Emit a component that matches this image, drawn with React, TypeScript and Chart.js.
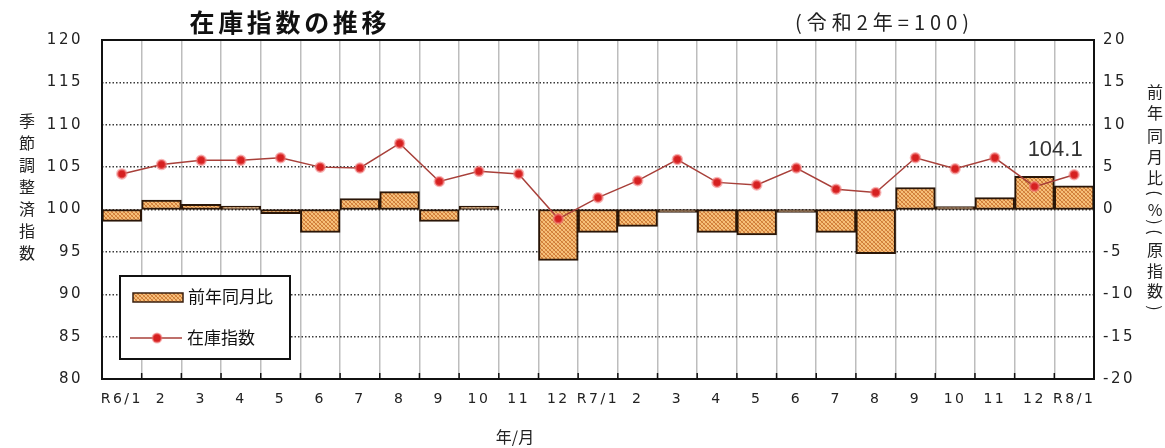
import React, { useEffect, useRef } from "react";
import { Chart, registerables } from "chart.js";
Chart.register(...registerables);

const categories = ["R6/1","2","3","4","5","6","7","8","9","10","11","12","R7/1","2","3","4","5","6","7","8","9","10","11","12","R8/1"];
const yoyChange: (number | null)[] = [-1.4,1.1,0.6,0.4,-0.5,-2.7,1.3,2.1,-1.4,0.4,null,-6.0,-2.7,-2.0,-0.1,-2.7,-3.0,-0.1,-2.7,-5.2,2.6,0.1,1.4,3.9,2.8];
const inventoryIndex = [104.2,105.3,105.8,105.8,106.1,105.0,104.9,107.8,103.3,104.5,104.2,98.9,101.4,103.4,105.9,103.2,102.9,104.9,102.4,102.0,106.1,104.8,106.1,102.7,104.1];
const leftMin = 80, leftMax = 120, leftStep = 5;
const rightMin = -20, rightMax = 20, rightStep = 5;

const titleText = "在庫指数の推移";
const subtitleText = "(令和2年=100)";
const leftAxisTitle = "季節調整済指数";
const rightAxisTitle = ["前","年","同","月","比","(","%",")","(","原","指","数",")"];
const xAxisTitle = "年/月";
const legendBar = "前年同月比";
const legendLine = "在庫指数";

const CJK = '"Noto Sans CJK JP", "Noto Sans", sans-serif';

function makePattern(): CanvasPattern | string {
  const c = document.createElement("canvas");
  c.width = 4; c.height = 4;
  const g = c.getContext("2d");
  if (!g) return "#E8A05A";
  g.fillStyle = "#F6C07A";
  g.fillRect(0, 0, 4, 4);
  const pts = [[0,0],[1,1],[2,2],[3,3],[0,3],[1,2],[2,1],[3,0]];
  g.fillStyle = "#C9773A";
  for (const [x, y] of pts) {
    if ((x + y) % 2 === 0) g.fillRect(x, y, 1, 1);
  }
  g.fillStyle = "#E39448";
  for (const [x, y] of pts) {
    if ((x + y) % 2 === 1) g.fillRect(x, y, 1, 1);
  }
  const p = g.createPattern(c, "repeat");
  return p || "#E8A05A";
}

function drawFit(ctx: CanvasRenderingContext2D, text: string, cx: number, cy: number, width: number, font: string, color: string) {
  ctx.save();
  ctx.font = font;
  (ctx as any).letterSpacing = "0px";
  const w = ctx.measureText(text).width;
  const n = Array.from(text).length;
  const ls = n > 1 ? (width - w) / (n - 1) : 0;
  (ctx as any).letterSpacing = ls + "px";
  ctx.textAlign = "left";
  ctx.textBaseline = "middle";
  ctx.fillStyle = color;
  ctx.fillText(text, cx - width / 2, cy);
  ctx.restore();
}

export default function App() {
  const ref = useRef<HTMLCanvasElement | null>(null);
  useEffect(() => {
    document.body.style.margin = "0";
    const canvas = ref.current;
    if (!canvas) return;
    const pattern = makePattern();

    const decor = {
      id: "decor",
      beforeDraw(chart: any) {
        (chart.ctx as any).letterSpacing = "2.5px";
      },
      afterDraw(chart: any) {
        const ctx: CanvasRenderingContext2D = chart.ctx;
        (ctx as any).letterSpacing = "0px";
        const a = chart.chartArea;
        const xs = chart.scales.x;
        ctx.save();
        ctx.strokeStyle = "#111";
        ctx.lineWidth = 1.5;
        for (let i = 0; i <= categories.length; i++) {
          const x = xs.getPixelForValue(i - 0.5);
          ctx.beginPath();
          ctx.moveTo(x, a.bottom);
          ctx.lineTo(x, a.bottom - 6);
          ctx.stroke();
        }
        ctx.lineWidth = 2;
        ctx.strokeStyle = "#111";
        ctx.strokeRect(a.left, a.top, a.right - a.left, a.bottom - a.top);
        ctx.restore();

        drawFit(ctx, titleText, 288, 22, 197, "bold 25px " + CJK, "#111");
        drawFit(ctx, subtitleText, 882, 22, 174, "20px " + CJK, "#222");

        ctx.save();
        ctx.font = "16px " + CJK;
        ctx.fillStyle = "#222";
        ctx.textAlign = "center";
        ctx.textBaseline = "middle";
        Array.from(leftAxisTitle).forEach((ch, i) => {
          ctx.fillText(ch, 27, 121 + i * 22);
        });
        const ry = [92, 113, 136, 157, 178, 193, 210, 222, 232, 250, 271, 291, 308];
        rightAxisTitle.forEach((ch, i) => {
          if (ch === "(" || ch === ")") {
            ctx.save();
            ctx.translate(1155, ry[i]);
            ctx.rotate(Math.PI / 2);
            ctx.fillText(ch, 0, 0);
            ctx.restore();
          } else {
            ctx.fillText(ch, 1155, ry[i]);
          }
        });
        ctx.fillText(xAxisTitle, 515, 437);
        ctx.restore();

        const last = inventoryIndex.length - 1;
        const px = xs.getPixelForValue(last);
        const py = chart.scales.y.getPixelForValue(inventoryIndex[last]);
        ctx.save();
        ctx.font = '22px "Liberation Sans", sans-serif';
        ctx.fillStyle = "#333";
        ctx.textAlign = "center";
        ctx.textBaseline = "middle";
        ctx.fillText(inventoryIndex[last].toFixed(1), px - 19, py - 25);
        ctx.restore();

        ctx.save();
        ctx.fillStyle = "#fff";
        ctx.fillRect(120, 276, 170, 83);
        ctx.strokeStyle = "#111";
        ctx.lineWidth = 2;
        ctx.strokeRect(120, 276, 170, 83);
        ctx.fillStyle = pattern as any;
        ctx.fillRect(133, 293, 50, 9);
        ctx.strokeStyle = "#3a2010";
        ctx.lineWidth = 1.5;
        ctx.strokeRect(133, 293, 50, 9);
        ctx.strokeStyle = "#A8403A";
        ctx.lineWidth = 1.5;
        ctx.beginPath();
        ctx.moveTo(130, 338);
        ctx.lineTo(182, 338);
        ctx.stroke();
        ctx.beginPath();
        ctx.arc(157, 338, 4.5, 0, Math.PI * 2);
        ctx.fillStyle = "#D62020";
        ctx.fill();
        ctx.strokeStyle = "rgba(240,120,120,0.55)";
        ctx.lineWidth = 2;
        ctx.stroke();
        ctx.font = "17px " + CJK;
        ctx.fillStyle = "#111";
        ctx.textAlign = "left";
        ctx.textBaseline = "middle";
        ctx.fillText(legendBar, 188, 297);
        ctx.fillText(legendLine, 187, 338);
        ctx.restore();
      },
    };

    const chart = new Chart(canvas, {
      type: "bar",
      data: {
        labels: categories,
        datasets: [
          {
            type: "line",
            label: legendLine,
            data: inventoryIndex,
            yAxisID: "y",
            borderColor: "#A8403A",
            borderWidth: 1.5,
            pointRadius: 4.5,
            pointBackgroundColor: "#D62020",
            pointBorderColor: "rgba(240,120,120,0.55)",
            pointBorderWidth: 2.5,
            tension: 0,
            order: 0,
          } as any,
          {
            type: "bar",
            label: legendBar,
            data: yoyChange,
            yAxisID: "y2",
            backgroundColor: pattern as any,
            borderColor: "#2a1608",
            borderWidth: 2,
            borderSkipped: false,
            minBarLength: 3,
            barPercentage: 1,
            categoryPercentage: 1,
            order: 1,
          } as any,
        ],
      },
      options: {
        responsive: false,
        animation: false,
        layout: { padding: { top: 40, left: 0, right: 0, bottom: 0 } },
        plugins: { legend: { display: false }, tooltip: { enabled: false }, title: { display: false } },
        scales: {
          x: {
            offset: true,
            grid: { offset: true, color: "#BDBDBD", lineWidth: 1.5, drawTicks: false },
            border: { display: false },
            ticks: {
              autoSkip: false,
              maxRotation: 0,
              minRotation: 0,
              padding: 12,
              color: "#222",
              font: { family: '"DejaVu Sans", sans-serif', size: 14 },
            },
            afterFit: (s: any) => { s.height = 69; },
          },
          y: {
            position: "left",
            min: leftMin,
            max: leftMax,
            grid: { color: "#3a3a3a", lineWidth: 1.5, drawTicks: false },
            border: { display: false, dash: [1.5, 2] },
            ticks: {
              stepSize: leftStep,
              padding: 19,
              color: "#222",
              font: { family: '"DejaVu Sans", sans-serif', size: 15 },
            },
            afterFit: (s: any) => { s.width = 102; },
          },
          y2: {
            position: "right",
            min: rightMin,
            max: rightMax,
            grid: { display: false, drawTicks: false },
            border: { display: false },
            ticks: {
              stepSize: rightStep,
              padding: 9,
              color: "#222",
              font: { family: '"DejaVu Sans", sans-serif', size: 15 },
            },
            afterFit: (s: any) => { s.width = 71; },
          },
        },
      } as any,
      plugins: [decor],
    });
    return () => chart.destroy();
  }, []);
  return (
    <div style={{ width: 1165, height: 448, background: "#fff" }}>
      <canvas ref={ref} width={1165} height={448} style={{ display: "block" }} />
    </div>
  );
}
